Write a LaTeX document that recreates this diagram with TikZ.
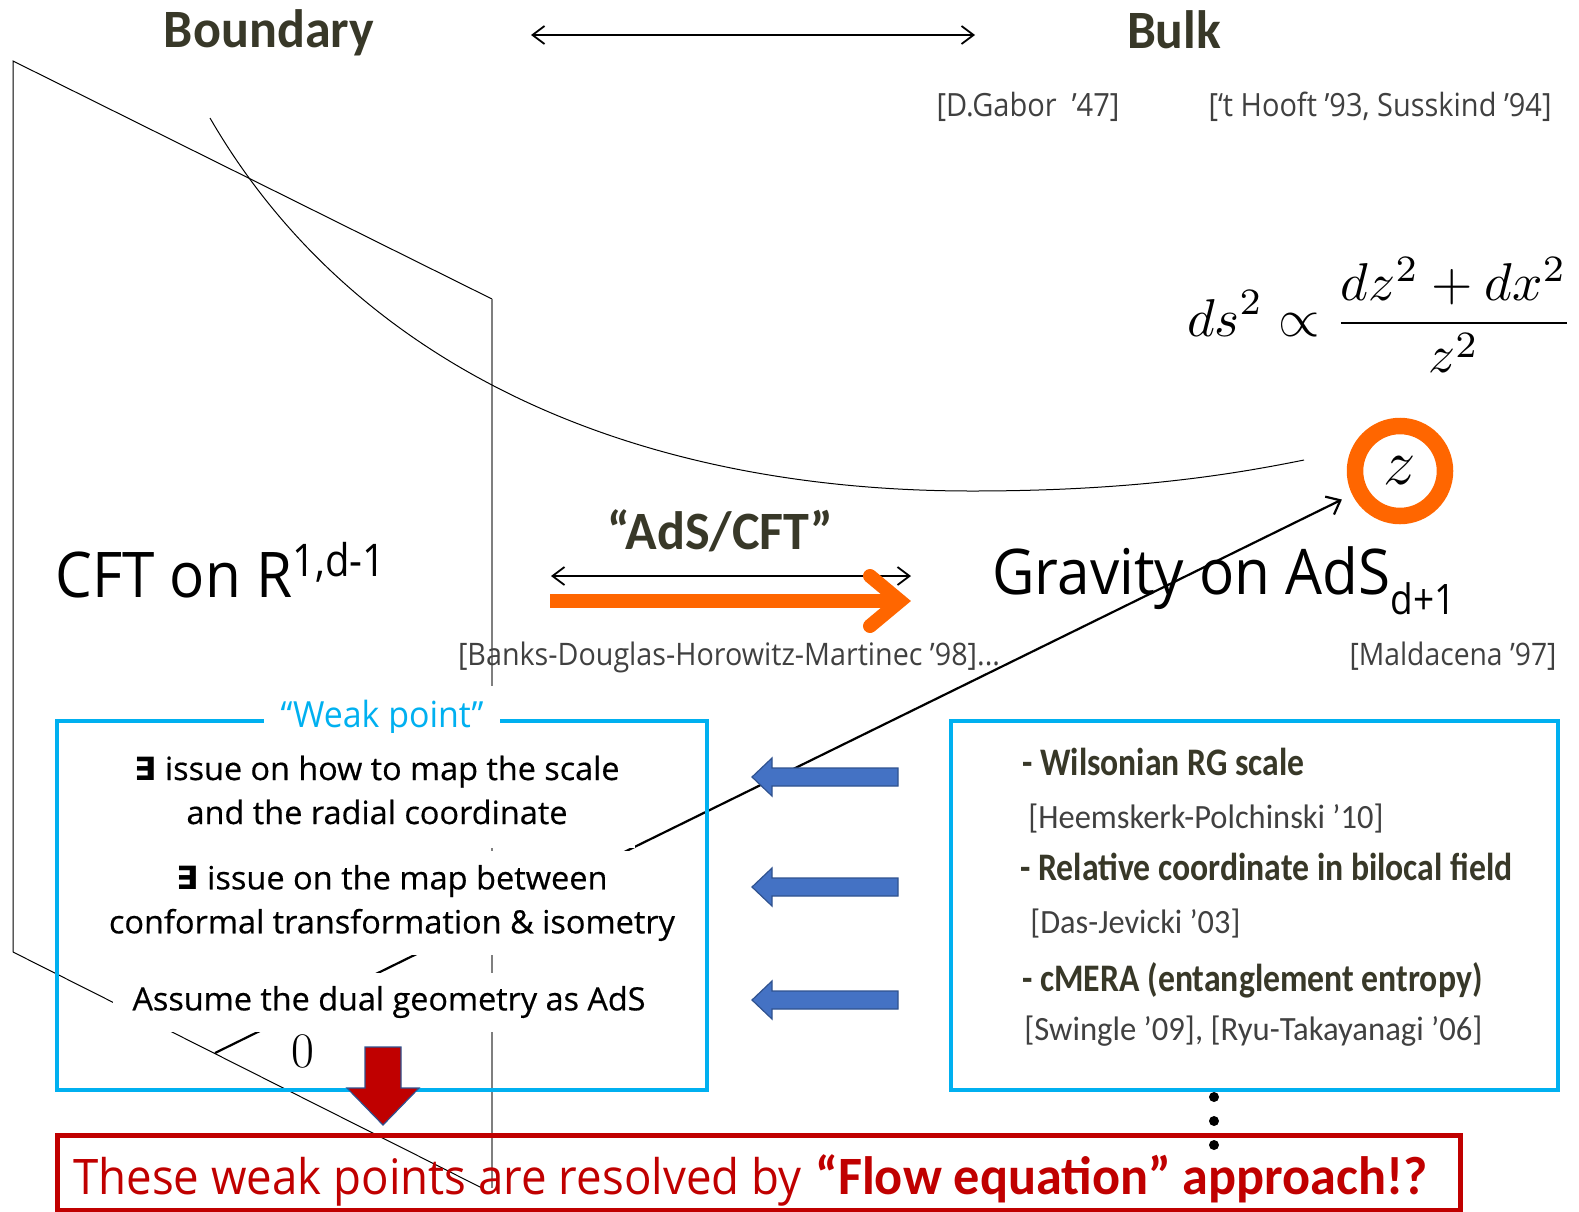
\documentclass[tikz,border=0pt]{standalone}
\usepackage[no-math]{fontspec}
\setmainfont{Open Sans}
\newfontfamily\calfont{Carlito}
\newfontfamily\symfont{DejaVu Sans}
\newfontfamily\weakfont[BoldFont={Open Sans},BoldFeatures={FakeBold=0.5}]{Open Sans}
\usepackage{amsmath}
\usepackage{graphicx}
\usepackage{xcolor}
\usetikzlibrary{arrows.meta}
\definecolor{darktext}{HTML}{383828}
\definecolor{refgrey}{HTML}{404040}
\definecolor{boxcyan}{HTML}{00B0F0}
\definecolor{adsorange}{HTML}{FF6600}
\definecolor{arrblue}{HTML}{4472C4}
\definecolor{arredge}{HTML}{2F528F}
\definecolor{flowred}{HTML}{C00000}
\definecolor{planegrey}{HTML}{7F7F7F}
\newcommand{\squeeze}[2]{\resizebox{#1}{\height}{#2}}
\tikzstyle{plane}=[black, line width=0.5pt]
\tikzstyle{plane back}=[planegrey, line width=0.8pt]
\tikzstyle{zaxis}=[black, line width=1.1pt, -{Straight Barb[length=6pt,width=10pt]}, shorten >=5.75pt]
\tikzstyle{dual}=[black, line width=0.9pt, {Straight Barb[length=6pt,width=9pt]}-{Straight Barb[length=6pt,width=9pt]}]
\tikzstyle{heading}=[inner sep=0pt, anchor=base, text=darktext, font=\calfont\bfseries\fontsize{27}{32}\selectfont]
\tikzstyle{refer}=[inner sep=0pt, anchor=base, text=refgrey, font=\fontsize{16}{19}\selectfont]
\tikzstyle{big}=[inner sep=0pt, anchor=base west, font=\fontsize{31.5}{38}\selectfont]
\tikzstyle{weak}=[fill=white, inner sep=0pt, align=center, font=\weakfont\bfseries\fontsize{16}{22}\selectfont]
\tikzstyle{cyanbox}=[boxcyan, line width=2.3pt]
\tikzstyle{entry}=[inner sep=0pt, anchor=base west, text=darktext, font=\calfont\bfseries\fontsize{19.5}{23}\selectfont]
\tikzstyle{entryref}=[inner sep=0pt, anchor=base west, text=refgrey, font=\calfont\fontsize{17}{20}\selectfont]
\tikzstyle{fillarrow}=[fill=arrblue, draw=arredge, line width=0.6pt]

\begin{document}
\begin{tikzpicture}[x=0.5pt,y=-0.5pt]
\useasboundingbox (0,0) rectangle (1579,1211);
% boundary plane, radial curve and z axis
\draw[plane] (13,952) -- (13,61) -- (492,299);
\draw[plane] (13,952) -- (482,1188);
\draw[plane back] (492,299) -- (492,1188);
\draw[plane] (210,118) .. controls (350,360) and (622,491) .. (972,491) .. controls (1130,491) and (1230,475) .. (1304,460);
\node[draw=adsorange, line width=8.25pt, circle, inner sep=0pt, minimum size=45pt] (zring) at (1400,471) {\scalebox{1.3}{\fontsize{24}{28}\selectfont$z$}};
\coordinate (zorig) at (215,1053);
\draw[zaxis] (zorig) -- (zring);
\node (zero) at (303,1051) {\fontsize{26}{30}\selectfont$0$};

% top row
\node[heading] (bound) at (269,47) {\squeeze{105pt}{Boundary}};
\node[heading] (bulk) at (1174,48) {\squeeze{47pt}{Bulk}};
\coordinate (tl) at (531,35);
\coordinate (tr) at (975,35);
\draw[dual] (tl) -- (tr);
\node[refer] (gabor) at (1028,116) {\squeeze{91.5pt}{[D.Gabor\ \ '47]}};
\node[refer] (hooft) at (1380,116) {\squeeze{171.5pt}{[‘t Hooft ’93, Susskind ’94]}};
\node (metric) at (1380,315) {\resizebox{193pt}{!}{$\displaystyle ds^2\propto\frac{dz^2+dx^2}{z^2}$}};

% AdS/CFT row
\node[big] (cft) at (55,597) {\squeeze{118.5pt}{CFT on R}\raisebox{10.5pt}{\fontsize{22.5}{27}\selectfont\squeeze{46.5pt}{1,d-1}}};
\node[big] (grav) at (992,594) {\squeeze{199pt}{Gravity on AdS}\raisebox{-10pt}{\fontsize{21}{25}\selectfont\squeeze{32.5pt}{d+1}}};
\node[heading] (adscft) at (720,549) {\squeeze{113pt}{“AdS/CFT”}};
\coordinate (al) at (551,576);
\coordinate (ar) at (911,576);
\draw[dual] (al) -- (ar);
\coordinate (ol) at (550,601);
\coordinate (or) at (900,601);
\draw[adsorange, line width=7pt] (ol) -- (or);
\draw[adsorange, line width=7pt, line cap=round] (870,576) -- (or) -- (870,626);
\node[refer, font=\fontsize{15.5}{19}\selectfont] (banks) at (729,665) {\squeeze{271pt}{[Banks-Douglas-Horowitz-Martinec ’98]...}};
\node[refer, font=\fontsize{15.5}{19}\selectfont] (malda) at (1453,665) {\squeeze{103.5pt}{[Maldacena ’97]}};

% boxes
\draw[cyanbox] (57,721) rectangle (707,1090);
\draw[cyanbox] (951,721) rectangle (1558,1090);
\draw[flowred, line width=2.5pt] (57,1135) rectangle (1460,1210);

% weak points
\node[fill=white, inner sep=0pt, text=boxcyan, minimum width=118pt, minimum height=32pt, font=\fontsize{18}{22}\selectfont] (wlabel) at (382,718) {\squeeze{101.5pt}{“Weak point”}};
\node[weak, minimum width=257.5pt, minimum height=57.5pt] (w1) at (377,790) {\squeeze{242.5pt}{{\symfont ∃} issue on how to map the scale}\\\squeeze{190.5pt}{and the radial coordinate}};
\node[weak, minimum width=297.5pt, minimum height=52pt] (w2) at (392,903) {\squeeze{215.5pt}{{\symfont ∃} issue on the map between}\\\squeeze{283pt}{conformal transformation \& isometry}};
\node[weak, minimum width=276pt, minimum height=29.5pt] (w3) at (389,1002) {\squeeze{256.5pt}{Assume the dual geometry as AdS}};

% proposals
\node[entry] (rg) at (1022,775) {\squeeze{141pt}{- Wilsonian RG scale}};
\node[entryref] (hp) at (1028,828) {\squeeze{177.5pt}{[Heemskerk-Polchinski ’10]}};
\node[entry] (bilocal) at (1020,880) {\squeeze{246pt}{- Relative coordinate in bilocal field}};
\node[entryref] (dj) at (1030,933) {\squeeze{105pt}{[Das-Jevicki ’03]}};
\node[entry] (cmera) at (1022,991) {\squeeze{230pt}{- cMERA (entanglement entropy)}};
\node[entryref] (swingle) at (1024,1040) {\squeeze{229pt}{[Swingle ’09], [Ryu-Takayanagi ’06]}};
\foreach \n/\y in {1/777,2/887,3/1000} {
 \coordinate (tip\n) at (752,\y);
 \draw[fillarrow] (tip\n) -- (772,\y-19) -- (772,\y-9) -- (898,\y-9) -- (898,\y+9) -- (772,\y+9) -- (772,\y+19) -- cycle;
}
\foreach \y in {1097,1121,1145}
 \fill (1214,\y) circle (5);

% conclusion
\draw[fill=flowred, draw=arredge, line width=0.6pt] (365,1047) -- (401,1047) -- (401,1088) -- (419,1088) -- (383,1125) -- (347,1088) -- (365,1088) -- cycle;
\node[inner sep=0pt, anchor=base west, text=flowred, font=\fontsize{24.5}{29}\selectfont] (resolve) at (73,1194) {\squeeze{364pt}{These weak points are resolved by}\hspace{7pt}{\calfont\bfseries\fontsize{27}{32}\selectfont\squeeze{306pt}{“Flow equation” approach!?}}};
\end{tikzpicture}
\end{document}
